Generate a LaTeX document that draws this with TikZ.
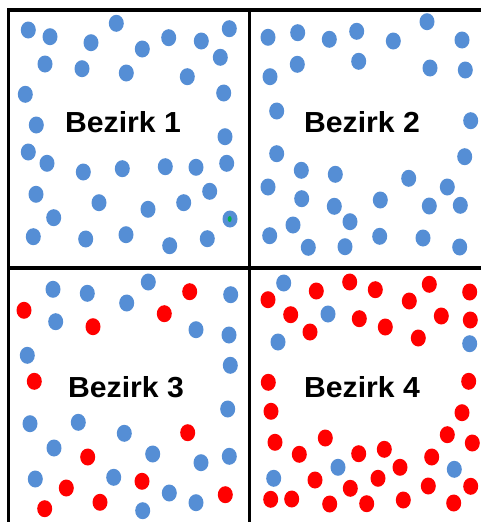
\documentclass[tikz,border=0pt]{standalone}
\usepackage{fontspec}
\setmainfont{Liberation Sans}
\definecolor{blau}{RGB}{85,142,213}
\definecolor{rot}{RGB}{255,0,0}
\definecolor{gruen}{RGB}{0,176,80}
\tikzset{
  rahmen/.style={line width=3.5pt},
  bezirk/.style={anchor=base, font=\bfseries\fontsize{29}{30}\selectfont, xscale=1.04, inner sep=0pt},
  pb/.style={fill=blau},
  pr/.style={fill=rot}
}

\begin{document}
\begin{tikzpicture}[x=1pt,y=-1pt]
  \useasboundingbox (0,0) rectangle (481,522);
  \fill[white] (0,0) rectangle (481,522);

  % Rahmen
  \draw[rahmen] (8.5,522) -- (8.5,10) -- (481,10);
  \draw[rahmen] (249.5,10) -- (249.5,522);
  \draw[rahmen] (8.5,268) -- (481,268);

  % Bezirk 1 (nur blau)
  \foreach \x/\y in {28.3/30, 50/36.7, 91/42.7, 116.3/23.3, 142.3/49, 168.7/37.7,
      201.3/41, 229.3/28.7, 45/64, 82/68.7, 126.3/73, 187.3/76.7, 220.3/57.3,
      25.3/94.3, 223.7/93, 36.3/125, 225/136.7, 28.3/152, 47/163.3, 83.3/172,
      122.3/168.7, 165.3/166.7, 196/167.3, 226.7/163.3, 36/194.3, 99/202.7,
      148/209.3, 183.7/202.7, 209.7/191.3, 53.7/217.7, 230/219, 33.3/236.7,
      85.7/239, 126/234.7, 169.7/245.7, 207.3/238.7}
    \fill[pb] (\x,\y) ellipse (7.5pt and 8.5pt);
  \fill[gruen] (229.7,219) ellipse (2pt and 3pt);
  \node[bezirk] (b1) at (123,132) {Bezirk 1};

  % Bezirk 2 (nur blau)
  \foreach \x/\y in {268/37.3, 297.7/32.7, 329.3/39.3, 356.7/31.3, 393.3/41,
      427/21.7, 462/40, 270/76.7, 297.3/64.3, 358.7/61.3, 430/68, 465.3/70,
      276.7/111, 470.7/120.7, 276.7/153.7, 464.7/156.7, 301.3/170.3,
      335.3/174.3, 408.7/178.3, 268/187, 447.3/187, 301.7/198.7, 334.3/206.3,
      380.3/200, 429.3/206, 460.3/205.3, 350/221.7, 293/225, 269.7/235.7,
      308.3/247.3, 345/246.7, 379.7/236.3, 423/238, 459.7/247}
    \fill[pb] (\x,\y) ellipse (7.5pt and 8.5pt);
  \node[bezirk] (b2) at (362,132) {Bezirk 2};

  % Bezirk 3 (gemischt)
  \foreach \x/\y in {53/289.3, 87.3/293.3, 126.7/303, 148.3/282, 230.7/294.7,
      55.7/321.7, 196/329.7, 229/335, 27.3/355.3, 230.3/365.3, 227.7/409,
      30/423.7, 78.3/422.3, 124.3/433.3, 54/448, 152.7/454, 201/462.7,
      229.3/456.3, 35.3/479, 113.7/477.3, 169.3/493, 196/502.7, 142.7/510.7}
    \fill[pb] (\x,\y) ellipse (7.5pt and 8.5pt);
  \foreach \x/\y in {189.7/291.7, 24/310.3, 93/326.7, 164.3/313.7, 34.3/381.3,
      187.7/432.7, 87.7/457, 66.3/488, 142/481.3, 225.3/494.7, 44.7/508.7,
      100/502.3}
    \fill[pr] (\x,\y) ellipse (7.5pt and 8.5pt);
  \node[bezirk] (b3) at (126,397) {Bezirk 3};

  % Bezirk 4 (fast nur rot)
  \foreach \x/\y in {283.7/283, 328/314, 278/342, 469.7/343.7, 338/467.3,
      454.3/469.3, 273.7/478.3}
    \fill[pb] (\x,\y) ellipse (7.5pt and 8.5pt);
  \foreach \x/\y in {268/299.7, 316.3/291, 349.7/282, 375.3/289.7, 409.3/301,
      429.3/284.3, 469.7/292, 290.7/314.7, 359.3/318.7, 385.3/327, 441.3/316,
      470.3/320, 310/332, 418.3/338, 268.3/382.3, 468.7/381.3, 271/411.3,
      462/412.7, 275/442.3, 325.3/438, 299.3/454.3, 447.3/434.7, 472.3/443,
      358.7/453.7, 384.3/449.3, 431.7/457, 400/467.3, 315/480, 378/478.3,
      350.3/488.3, 428.3/486, 470.7/486.3, 270.7/499.3, 291.7/499,
      329.7/504, 366.7/503.7, 403.3/500, 453.7/503}
    \fill[pr] (\x,\y) ellipse (7.5pt and 8.5pt);
  \node[bezirk] (b4) at (362,397) {Bezirk 4};
\end{tikzpicture}
\end{document}
